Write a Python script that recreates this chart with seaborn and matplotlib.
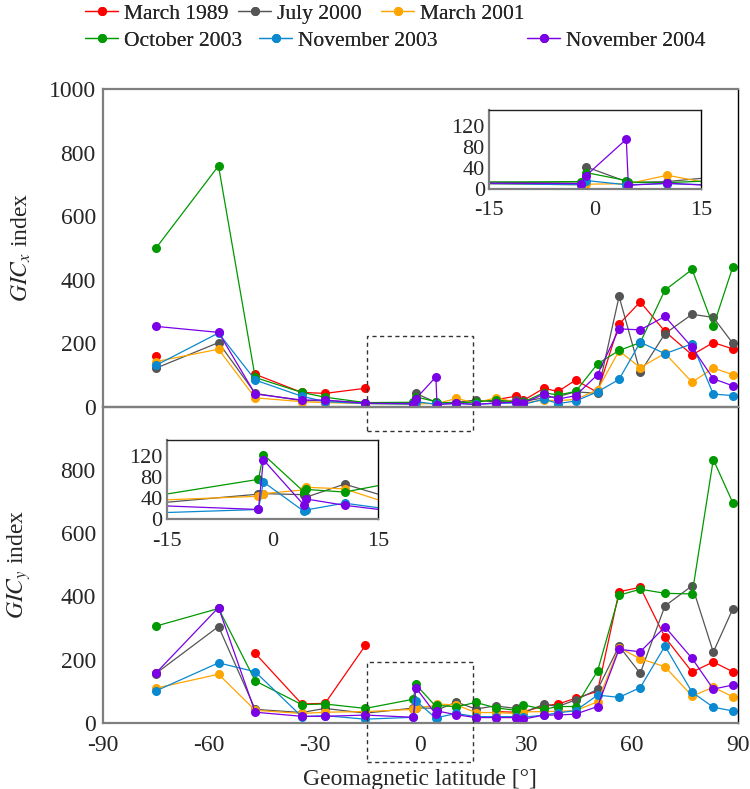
import numpy as np
import pandas as pd
import matplotlib
matplotlib.use("Agg")
import matplotlib.pyplot as plt
import seaborn as sns
from matplotlib.ticker import MultipleLocator, FixedLocator
from matplotlib.lines import Line2D
from matplotlib.patches import Rectangle

nan = np.nan

# Geomagnetic latitude of each station [deg]
latitudes = [-75.0, -57.2, -46.8, -33.6, -27.0, -15.6, -2.0, -1.3, 4.4, 4.7, 10.2, 15.7,
             21.3, 27.0, 29.2, 35.0, 39.0, 44.0, 50.2, 56.3, 62.3, 69.3, 77.0, 83.0, 88.5]

events = ["March 1989", "July 2000", "March 2001",
          "October 2003", "November 2003", "November 2004"]
palette = ["#ff0000", "#555555", "#ffa500", "#009900", "#0a88d0", "#7a00e6"]

# GIC_x index per event
gicx_mar1989 = [161, nan, 102, 45, 42, 58, nan, nan, nan, nan, nan, nan,
                22, 33, 20, 58, 48, 84, 45, 260, 330, 237, 163, 202, 182]
gicx_jul2000 = [121, 202, 42, 19, 19, 13, 11, 42, 14, 12, 14, 21,
                15, 21, 17, 28, 32, 47, 42, 347, 108, 230, 291, 281, 200]
gicx_mar2001 = [142, 181, 28, 16, 13, 10, 8, 9, 10, 10, 26, 12,
                28, 15, 12, 21, 19, 23, 53, 176, 123, 168, 77, 122, 101]
gicx_oct2003 = [498, 758, 92, 45, 30, 13, 14, 31, 16, 13, 12, 15,
                21, 15, 15, 44, 37, 48, 135, 177, 202, 367, 432, 253, 439]
gicx_nov2003 = [130, 232, 84, 33, 16, 10, 8, 16, 8, 8, 10, 8,
                10, 12, 7, 24, 10, 18, 47, 86, 203, 167, 198, 40, 35]
gicx_nov2004 = [253, 234, 40, 21, 21, 11, 10, 25, 94, 7, 11, 7,
                12, 14, 12, 39, 24, 35, 101, 245, 242, 284, 187, 88, 66]

# GIC_y index per event
gicy_mar1989 = [157, nan, 220, 60, 62, 245, nan, nan, nan, nan, nan, nan,
                36, 34, 35, 54, 60, 78, 100, 415, 429, 271, 161, 193, 162]
gicy_jul2000 = [156, 305, 43, 33, 46, 31, 47, 48, 46, 41, 66, 44,
                54, 46, 33, 59, 52, 73, 106, 243, 157, 370, 434, 224, 360]
gicy_mar2001 = [110, 154, 40, 30, 34, 36, 43, 48, 55, 60, 57, 33,
                33, 30, 35, 36, 37, 39, 67, 238, 203, 178, 85, 113, 83]
gicy_oct2003 = [306, 362, 133, 58, 60, 46, 75, 122, 52, 56, 51, 65,
                48, 40, 57, 43, 52, 52, 164, 404, 423, 410, 408, 833, 697]
gicy_nov2003 = [101, 190, 162, 20, 23, 12, 18, 70, 15, 17, 30, 20,
                20, 20, 18, 25, 32, 39, 88, 81, 112, 243, 97, 50, 38]
gicy_nov2004 = [157, 365, 34, 21, 21, 25, 18, 112, 27, 38, 26, 17,
                17, 17, 12, 25, 25, 28, 52, 233, 225, 304, 204, 107, 120]

gicx = [gicx_mar1989, gicx_jul2000, gicx_mar2001, gicx_oct2003, gicx_nov2003, gicx_nov2004]
gicy = [gicy_mar1989, gicy_jul2000, gicy_mar2001, gicy_oct2003, gicy_nov2003, gicy_nov2004]


def long_table(series):
    """Long-form table; missing stations split a series into separate segments."""
    rows = []
    for name, vals in zip(events, series):
        seg = 0
        for lat, v in zip(latitudes, vals):
            if np.isnan(v):
                seg += 1
                continue
            rows.append({"lat": lat, "value": v, "event": name, "seg": seg})
    return pd.DataFrame(rows)


df_x = long_table(gicx)
df_y = long_table(gicy)

sns.set_theme(style="white")
plt.rcParams["font.family"] = ["Liberation Serif", "DejaVu Serif"]
plt.rcParams["mathtext.fontset"] = "stix"
plt.rcParams["axes.unicode_minus"] = False
FS = 17
FS_IN = 16
FS_LEG = 15.5

GRAY = "#7f7f7f"


def draw_series(ax, df):
    sns.lineplot(data=df, x="lat", y="value", hue="event", hue_order=events,
                 palette=palette, units="seg", estimator=None, sort=True,
                 marker="o", markersize=6.5, markeredgewidth=0, linewidth=0.9,
                 legend=False, ax=ax)
    ax.set_xlabel("")
    ax.set_ylabel("")


def style_axes(ax, xmajor, xminor, ymajor, fs, yminor=None):
    ax.set_facecolor("none")
    for side in ("left", "top", "bottom"):
        ax.spines[side].set_color(GRAY)
        ax.spines[side].set_linewidth(1.6)
    ax.spines["right"].set_color("black")
    ax.spines["right"].set_linewidth(1.0)
    ax.xaxis.set_major_locator(MultipleLocator(xmajor))
    ax.xaxis.set_minor_locator(MultipleLocator(xminor))
    ax.tick_params(axis="x", which="major", direction="in", length=9, width=0.9,
                   color="black", labelsize=fs, pad=9, top=False)
    ax.tick_params(axis="x", which="minor", direction="in", length=6, width=0.9,
                   color="black", top=False)
    ax.tick_params(axis="y", which="major", direction="in", length=12, width=1.6,
                   color=GRAY, labelsize=fs, pad=5, right=False)
    if yminor is not None:
        ax.yaxis.set_minor_locator(MultipleLocator(yminor))
        ax.tick_params(axis="y", which="minor", direction="in", length=7,
                       width=1.2, color=GRAY, right=False)


fig = plt.figure(figsize=(7.5, 7.89), dpi=100)

ax1 = fig.add_axes([0.137, 0.4845, 0.847, 0.4027])
ax2 = fig.add_axes([0.137, 0.0837, 0.847, 0.4008])

draw_series(ax1, df_x)
draw_series(ax2, df_y)

for ax in (ax1, ax2):
    ax.set_xlim(-90, 90)
    ax.set_ylim(0, 1000)
    style_axes(ax, 30, 5, 200, FS)

ax1.yaxis.set_major_locator(FixedLocator([0, 200, 400, 600, 800, 1000]))
ax2.yaxis.set_major_locator(FixedLocator([0, 200, 400, 600, 800]))
ax1.tick_params(axis="x", labelbottom=False)

ax1.set_ylabel(r"$GIC_x$ index", fontsize=FS)
ax2.set_ylabel(r"$GIC_y$ index", fontsize=FS)
ax2.set_xlabel("Geomagnetic latitude [°]", fontsize=FS, labelpad=9)
ax1.yaxis.set_label_coords(-0.11, 0.5)
ax2.yaxis.set_label_coords(-0.11, 0.5)

# Dashed frames marking the zoomed equatorial band
ax1.add_patch(Rectangle((-15, -75), 30, 298, fill=False, ls=(0, (3, 2.5)),
                        lw=1.0, edgecolor="#333333", clip_on=False, zorder=5))
ax2.add_patch(Rectangle((-15, -125), 30, 318, fill=False, ls=(0, (3, 2.5)),
                        lw=1.0, edgecolor="#333333", clip_on=False, zorder=5))

# Insets with the equatorial stations
in1 = fig.add_axes([0.652, 0.7605, 0.283, 0.1005])
in2 = fig.add_axes([0.2223, 0.3422, 0.2822, 0.1005])
for ax_in, df in ((in1, df_x), (in2, df_y)):
    ax_in.set_facecolor("white")
    draw_series(ax_in, df)
    ax_in.set_xlim(-15, 15)
    ax_in.set_ylim(0, 150)
    style_axes(ax_in, 15, 2.5, 40, FS_IN, 20)
    ax_in.yaxis.set_major_locator(FixedLocator([0, 40, 80, 120]))
    ax_in.spines["top"].set_color("#222222")
    ax_in.spines["top"].set_linewidth(1.0)
    ax_in.tick_params(axis="x", which="major", length=6, pad=9)
    ax_in.tick_params(axis="x", which="minor", length=5)
    ax_in.tick_params(axis="y", which="major", length=9, pad=3)
    ax_in.set_zorder(10)

# Legend entries in two rows above the panels
handles = [Line2D([], [], color=c, lw=0.9, marker="o", markersize=6.5,
                  markeredgewidth=0) for c in palette]
leg_kw = dict(frameon=False, fontsize=FS_LEG, handlelength=1.55, handletextpad=0.25,
              borderpad=0, borderaxespad=0, loc="center left")
entry_x = [85, 238, 381, 85, 259, 527]
entry_y = [14, 14, 14, 41, 41, 41]
for h, lab, ex, ey in zip(handles, events, entry_x, entry_y):
    leg = fig.legend([h], [lab], bbox_to_anchor=(ex / 750, 1 - ey / 789), **leg_kw)
    fig.add_artist(leg)

fig.savefig("out.png", dpi=100)
